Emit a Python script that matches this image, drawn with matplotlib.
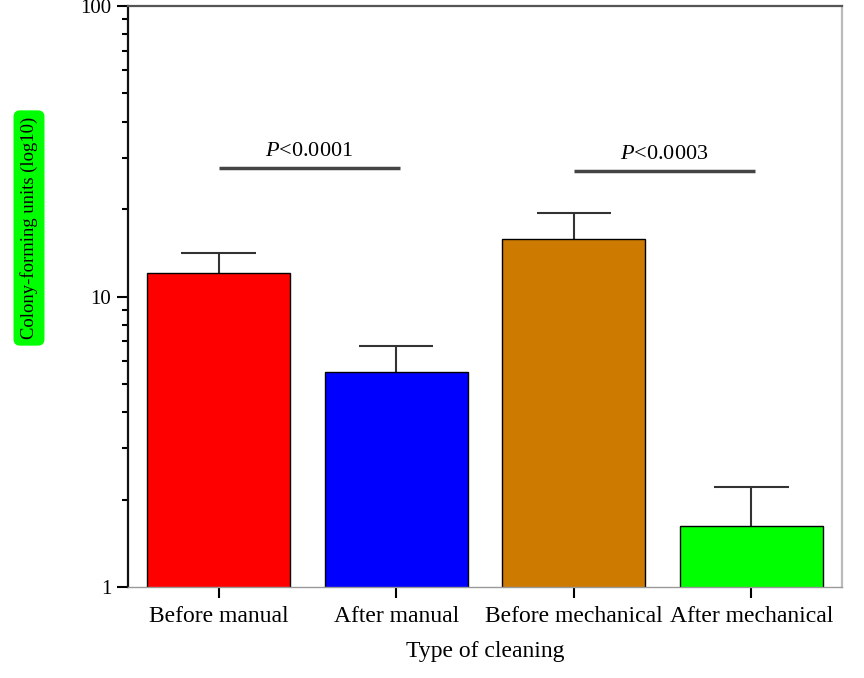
import matplotlib
matplotlib.use("Agg")
import matplotlib.pyplot as plt
import numpy as np

# data
categories = ["Before manual", "After manual", "Before mechanical", "After mechanical"]
means = [12.05, 5.5, 15.8, 1.62]
upper = [14.1, 6.76, 19.4, 2.21]
colors = ["#ff0000", "#0000ff", "#cc7a00", "#00ff00"]
p_labels = ["<0.0001", "<0.0003"]
p_pairs = [(0, 1), (2, 3)]
p_heights = [27.7, 27.0]

plt.rcParams["font.family"] = ["Liberation Serif", "DejaVu Serif"]
plt.rcParams["mathtext.fontset"] = "custom"
plt.rcParams["mathtext.rm"] = "Liberation Serif"
plt.rcParams["mathtext.it"] = "Liberation Serif:italic"

fig = plt.figure(figsize=(8.64, 6.78), dpi=100)
ax = fig.add_axes([128 / 864, 91 / 678, 714 / 864, 581 / 678])

x = np.arange(len(categories))
ax.bar(x, means, width=0.805, color=colors, edgecolor="black", linewidth=1.0, zorder=2)
# upper error only: stem + cap
cap = 0.21
ax.vlines(x, means, upper, color="#333333", lw=1.5, zorder=1)
ax.hlines(upper, x - cap, x + cap, color="#333333", lw=1.5, zorder=1)

ax.set_yscale("log")
ax.set_ylim(1, 100)
ax.set_xlim(-0.51, 3.51)
ax.set_yticks([1, 10, 100])
ax.set_yticklabels(["1", "10", "100"])
ax.set_xticks(x)
ax.set_xticklabels(categories, fontsize=17)
ax.tick_params(axis="y", which="major", direction="out", length=8, width=1.5, labelsize=15, pad=4)
ax.tick_params(axis="y", which="minor", direction="out", length=4.5, width=1.5)
ax.tick_params(axis="x", direction="out", length=8, width=1.5, pad=6)
ax.set_xlabel("Type of cleaning", fontsize=17, labelpad=10)

ax.spines["left"].set_linewidth(1.6)
ax.spines["left"].set_color("#111111")
ax.spines["top"].set_color("#555555")
ax.spines["top"].set_linewidth(1.6)
ax.spines["right"].set_color("#bbbbbb")
ax.spines["right"].set_linewidth(1.6)
ax.spines["bottom"].set_color("#999999")
ax.spines["bottom"].set_linewidth(1.0)

# significance bars
for (a, b), h, lab in zip(p_pairs, p_heights, p_labels):
    ax.plot([a, b + 0.02], [h, h], color="#444444", lw=2.5, solid_capstyle="butt")
    ax.text((a + b) / 2 + 0.01, h * 1.06, r"$P$" + lab, ha="center", va="bottom", fontsize=16)

fig.text(29 / 864, 1 - 228 / 678, "Colony-forming units (log10)", rotation=90,
         ha="center", va="center", fontsize=13.4,
         bbox=dict(boxstyle="round,pad=0.35", facecolor="#00ff00", edgecolor="none"))

fig.savefig("out.png", dpi=100)
